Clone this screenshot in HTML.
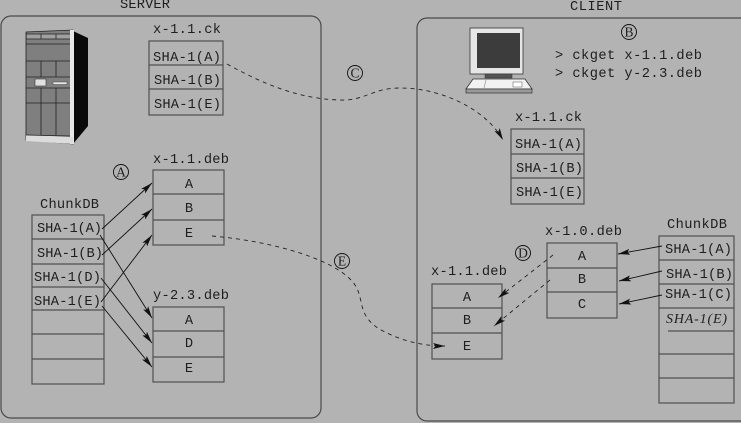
<!DOCTYPE html>
<html><head><meta charset="utf-8"><style>
html,body{margin:0;padding:0;background:#b3b3b3;}
svg{display:block;}
text{font-family:"Liberation Mono","DejaVu Sans Mono",monospace;font-size:13.7px;fill:#1e1e1e;}
.c{font-family:"Liberation Serif",serif;font-size:13.5px;}
</style></head><body>
<svg width="741" height="423" viewBox="0 0 741 423" xmlns="http://www.w3.org/2000/svg">
<defs>
<marker id="ah" markerWidth="13" markerHeight="8" refX="12" refY="4" orient="auto" markerUnits="userSpaceOnUse">
<path d="M0,1 L12,4 L0,7 L2.5,4 Z" fill="#111"/>
</marker>
</defs>
<rect width="741" height="423" fill="#b3b3b3"/>

<!-- Panels -->
<text x="120" y="8" textLength="50">SERVER</text>
<rect x="1" y="16" width="320" height="402" rx="10" fill="none" stroke="#4a4a4a" stroke-width="1.2"/>
<text x="570" y="10" textLength="52">CLIENT</text>
<rect x="417" y="18" width="340" height="403" rx="10" fill="none" stroke="#4a4a4a" stroke-width="1.2"/>

<!-- Server tower -->
<g>
<polygon points="73,31 88,38 88,126 73,144" fill="#0a0a0a"/>
<polygon points="26,32 73,30 73,144 26,140" fill="#7f7f7f" stroke="#222" stroke-width="0.8"/>
<rect x="70" y="30" width="4" height="114" fill="#e8e8e8"/>
<polygon points="26,135 73,137 73,144 26,141" fill="#dcdcdc"/>
<rect x="27" y="34" width="43" height="5" fill="#a0a0a0"/>
<g stroke="#222" stroke-width="0.8">
<line x1="26" y1="34" x2="70" y2="34"/><line x1="26" y1="39" x2="70" y2="39"/>
<line x1="26" y1="44" x2="70" y2="44"/><line x1="26" y1="61" x2="70" y2="61"/>
<line x1="26" y1="77" x2="70" y2="77"/><line x1="26" y1="88" x2="70" y2="88"/>
<line x1="26" y1="103" x2="70" y2="103"/><line x1="26" y1="135" x2="70" y2="136"/>
<line x1="41" y1="34" x2="41" y2="39"/><line x1="56" y1="34" x2="56" y2="39"/>
<line x1="41" y1="61" x2="41" y2="77"/><line x1="56" y1="61" x2="56" y2="77"/>
<line x1="41" y1="88" x2="41" y2="135"/><line x1="56" y1="88" x2="56" y2="135"/>
</g>
<rect x="35" y="79" width="11" height="7" fill="#e0e0e0" stroke="#333" stroke-width="0.6"/>
<rect x="53" y="82" width="14" height="2.5" fill="#e8e8e8" stroke="#444" stroke-width="0.5"/>
</g>

<!-- Client computer -->
<g>
<rect x="470" y="28" width="53" height="46" fill="#e6e6e6" stroke="#333" stroke-width="0.8"/>
<rect x="477" y="33" width="43" height="35" fill="#3c3c3c"/>
<rect x="485" y="74" width="27" height="4" fill="#555" stroke="#333" stroke-width="0.5"/>
<polygon points="473,79 525,79 532,89 466,89" fill="#f2f2f2" stroke="#333" stroke-width="0.8"/>
<rect x="466" y="89" width="66" height="4" fill="#9a9a9a" stroke="#333" stroke-width="0.7"/>
<rect x="513" y="82" width="9" height="5" fill="#fff" stroke="#555" stroke-width="0.5"/>
<line x1="486" y1="80" x2="484" y2="88" stroke="#888" stroke-width="0.6"/>
</g>

<g fill="none" stroke="#505050" stroke-width="1.2">
<rect x="149" y="41" width="74" height="74"/>
<line x1="149" y1="65" x2="223" y2="65"/><line x1="149" y1="89" x2="223" y2="89"/>
<rect x="153" y="170" width="71" height="75"/>
<line x1="153" y1="194" x2="224" y2="194"/><line x1="153" y1="220" x2="224" y2="220"/>
<rect x="153" y="307" width="71" height="75"/>
<line x1="153" y1="331" x2="224" y2="331"/><line x1="153" y1="357" x2="224" y2="357"/>
<rect x="32" y="215" width="72" height="169"/>
<line x1="32" y1="239" x2="104" y2="239"/><line x1="32" y1="264" x2="104" y2="264"/>
<line x1="32" y1="287" x2="104" y2="287"/><line x1="32" y1="310" x2="104" y2="310"/>
<line x1="32" y1="334" x2="104" y2="334"/><line x1="32" y1="359" x2="104" y2="359"/>
<rect x="511" y="129" width="73" height="75"/>
<line x1="511" y1="154" x2="584" y2="154"/><line x1="511" y1="178" x2="584" y2="178"/>
<rect x="547" y="243" width="70" height="75"/>
<line x1="547" y1="268" x2="617" y2="268"/><line x1="547" y1="292" x2="617" y2="292"/>
<rect x="432" y="284" width="70" height="75"/>
<line x1="432" y1="308" x2="502" y2="308"/><line x1="432" y1="333" x2="502" y2="333"/>
<rect x="659" y="236" width="75" height="167"/>
<line x1="659" y1="260" x2="734" y2="260"/><line x1="659" y1="284" x2="734" y2="284"/>
<line x1="659" y1="308" x2="734" y2="308"/><line x1="668" y1="331" x2="734" y2="331"/>
<line x1="659" y1="354" x2="734" y2="354"/><line x1="659" y1="378" x2="734" y2="378"/>
</g>

<!-- Labels -->
<text x="153" y="33" textLength="68">x-1.1.ck</text>
<text x="153" y="61" textLength="68">SHA-1(A)</text>
<text x="154" y="84" textLength="67">SHA-1(B)</text>
<text x="154" y="108" textLength="67">SHA-1(E)</text>

<text x="153" y="163" textLength="76">x-1.1.deb</text>
<text x="189" y="188" text-anchor="middle">A</text>
<text x="189" y="212" text-anchor="middle">B</text>
<text x="189" y="237" text-anchor="middle">E</text>

<text x="153" y="299" textLength="76">y-2.3.deb</text>
<text x="189" y="324" text-anchor="middle">A</text>
<text x="189" y="347" text-anchor="middle">D</text>
<text x="189" y="372" text-anchor="middle">E</text>

<text x="40" y="208" textLength="59">ChunkDB</text>
<text x="37" y="232" textLength="65">SHA-1(A)</text>
<text x="37" y="257" textLength="66">SHA-1(B)</text>
<text x="34" y="281" textLength="67">SHA-1(D)</text>
<text x="34" y="305" textLength="67">SHA-1(E)</text>

<text x="555" y="59" textLength="147">&gt; ckget x-1.1.deb</text>
<text x="555" y="77" textLength="147">&gt; ckget y-2.3.deb</text>

<text x="515" y="121" textLength="67">x-1.1.ck</text>
<text x="515" y="148" textLength="67">SHA-1(A)</text>
<text x="516" y="172" textLength="67">SHA-1(B)</text>
<text x="516" y="196" textLength="67">SHA-1(E)</text>

<text x="545" y="235" textLength="77">x-1.0.deb</text>
<text x="582" y="260" text-anchor="middle">A</text>
<text x="582" y="283" text-anchor="middle">B</text>
<text x="582" y="308" text-anchor="middle">C</text>

<text x="431" y="275" textLength="76">x-1.1.deb</text>
<text x="467" y="301" text-anchor="middle">A</text>
<text x="467" y="324" text-anchor="middle">B</text>
<text x="467" y="350" text-anchor="middle">E</text>

<text x="667" y="228" textLength="60">ChunkDB</text>
<text x="665" y="253" textLength="67">SHA-1(A)</text>
<text x="666" y="278" textLength="67">SHA-1(B)</text>
<text x="665" y="298" textLength="67">SHA-1(C)</text>
<text x="666" y="323" textLength="61" style="font-family:'Liberation Serif',serif;font-style:italic;font-size:14px;">SHA-1(E)</text>

<!-- Circled letters -->
<g fill="none" stroke="#111" stroke-width="0.9">
<circle cx="121" cy="172" r="7.5"/>
<circle cx="629" cy="32" r="7.5"/>
<circle cx="355" cy="73" r="7.5"/>
<circle cx="523" cy="253" r="7.5"/>
<circle cx="342" cy="261" r="7.5"/>
</g>
<text class="c" x="121" y="176.7" text-anchor="middle">A</text>
<text class="c" x="629" y="36.7" text-anchor="middle">B</text>
<text class="c" x="355" y="77.7" text-anchor="middle">C</text>
<text class="c" x="523" y="257.7" text-anchor="middle">D</text>
<text class="c" x="342" y="265.7" text-anchor="middle">E</text>

<!-- Solid arrows -->
<g stroke="#111" stroke-width="0.9" fill="none" marker-end="url(#ah)">
<line x1="102" y1="229" x2="152" y2="183"/>
<line x1="102" y1="255" x2="152" y2="209"/>
<line x1="101" y1="302" x2="152" y2="235"/>
<line x1="100" y1="235" x2="152" y2="318"/>
<line x1="101" y1="278" x2="152" y2="343"/>
<line x1="102" y1="306" x2="152" y2="367"/>
<line x1="662" y1="246" x2="618" y2="254"/>
<line x1="662" y1="271" x2="619" y2="281"/>
<line x1="662" y1="295" x2="619" y2="304"/>
</g>

<!-- Dashed arrows -->
<g stroke="#222" stroke-width="0.9" fill="none" stroke-dasharray="4,4" marker-end="url(#ah)">
<path d="M227,64 C265,85 300,99 340,100 C365,101 372,88 400,88 C440,88 485,108 503,140"/>
<path d="M212,236 C280,242 340,262 355,285 C365,300 356,318 385,332 C405,342 425,346 445,346"/>
<line x1="553" y1="255" x2="498" y2="298"/>
<line x1="550" y1="280" x2="494" y2="326"/>
</g>
</svg>
</body></html>
